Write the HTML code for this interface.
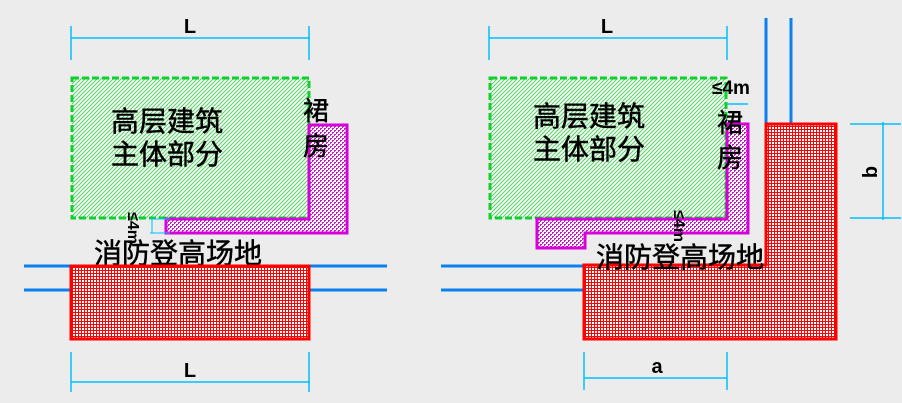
<!DOCTYPE html>
<html><head><meta charset="utf-8"><style>
html,body{margin:0;padding:0;background:#ececec;}
svg{display:block}
text{font-family:"Liberation Sans","Noto Sans CJK SC",sans-serif;fill:#000}
.c{stroke:#000;stroke-width:0.5}
</style></head><body>
<svg width="902" height="403" viewBox="0 0 902 403" xmlns="http://www.w3.org/2000/svg">
<defs>
<pattern id="g" width="4" height="4" patternUnits="userSpaceOnUse">
<rect width="4" height="4" fill="#f2f7f2"/>
<path d="M-1,1 L1,-1 M0,4 L4,0 M3,5 L5,3" stroke="#4cd05c" stroke-width="0.9"/>
</pattern>
<pattern id="m" width="4" height="4" patternUnits="userSpaceOnUse">
<rect width="4" height="4" fill="#fff"/>
<rect width="2" height="1" fill="#c818c8"/><rect x="2" y="2" width="2" height="1" fill="#c818c8"/>
<rect x="0" y="1" width="1" height="1" fill="#c818c8"/><rect x="2" y="3" width="1" height="1" fill="#c818c8"/>
</pattern>
<pattern id="r" width="3" height="3" patternUnits="userSpaceOnUse">
<rect width="3" height="3" fill="#fff"/>
<rect width="3" height="1" fill="#f00"/><rect width="1" height="3" fill="#f00"/>
</pattern>
</defs>

<!-- LEFT -->
<g stroke="#00bfff" stroke-width="1.5" fill="none">
<line x1="71" y1="38" x2="310" y2="38"/><line x1="71" y1="26" x2="71" y2="60"/><line x1="309" y1="26" x2="309" y2="60"/>
<line x1="71" y1="382" x2="310" y2="382"/><line x1="71" y1="352" x2="71" y2="392"/><line x1="309" y1="352" x2="309" y2="392"/>
</g>
<text x="190" y="33" font-size="20" font-weight="bold" text-anchor="middle">L</text>
<text x="190" y="377" font-size="20" font-weight="bold" text-anchor="middle">L</text>

<rect x="72" y="78" width="237" height="140" fill="url(#g)" stroke="#10d030" stroke-width="3" stroke-dasharray="7,3"/>
<polygon points="166,219 309,219 309,125 347,125 347,233 166,233" fill="url(#m)" stroke="#d800d8" stroke-width="3"/>
<g stroke="#00bfff" stroke-width="1" fill="none"><line x1="150" y1="219" x2="170" y2="219"/><line x1="150" y1="233" x2="170" y2="233"/><line x1="152" y1="219" x2="152" y2="233"/></g>
<text class="c" x="111" y="131" font-size="28">高层建筑</text>
<text class="c" x="111" y="164" font-size="28">主体部分</text>
<text class="c" x="303" y="120" font-size="26">裙</text>
<text class="c" x="303" y="155" font-size="26">房</text>
<text transform="translate(128,228) rotate(90)" font-size="16" font-weight="bold" text-anchor="middle">≤4m</text>
<text class="c" x="94" y="263" font-size="28">消防登高场地</text>

<g stroke="#0a7ff0" stroke-width="3"><line x1="24" y1="266" x2="72" y2="266"/><line x1="24" y1="290" x2="72" y2="290"/><line x1="309" y1="266" x2="387" y2="266"/><line x1="309" y1="290" x2="387" y2="290"/></g>
<rect x="71" y="266" width="238" height="73" fill="url(#r)" stroke="#f00" stroke-width="3"/>

<!-- RIGHT -->
<g stroke="#00bfff" stroke-width="1.5" fill="none">
<line x1="489" y1="38" x2="727" y2="38"/><line x1="489" y1="26" x2="489" y2="60"/><line x1="727" y1="26" x2="727" y2="60"/>
<line x1="584" y1="378" x2="727" y2="378"/><line x1="584" y1="352" x2="584" y2="390"/><line x1="727" y1="352" x2="727" y2="390"/>
<line x1="850" y1="124" x2="901" y2="124"/><line x1="850" y1="218" x2="901" y2="218"/><line x1="883" y1="122" x2="883" y2="220"/>
<line x1="727" y1="104" x2="748" y2="104"/>
</g>
<text x="607" y="33" font-size="20" font-weight="bold" text-anchor="middle">L</text>
<text x="657" y="373" font-size="20" font-weight="bold" text-anchor="middle">a</text>
<text transform="translate(877,172) rotate(-90)" font-size="20" font-weight="bold" text-anchor="middle">b</text>

<g stroke="#0a7ff0" stroke-width="3"><line x1="766" y1="18" x2="766" y2="124"/><line x1="791" y1="18" x2="791" y2="124"/><line x1="441" y1="266" x2="584" y2="266"/><line x1="441" y1="290" x2="584" y2="290"/></g>

<rect x="490" y="78" width="236" height="140" fill="url(#g)" stroke="#10d030" stroke-width="3" stroke-dasharray="7,3"/>
<polygon points="537,219 727,219 727,124 748,124 748,233 585,233 585,248 537,248" fill="url(#m)" stroke="#d800d8" stroke-width="3"/>
<polygon points="584,265 766,265 766,124 836,124 836,339 584,339" fill="url(#r)" stroke="#f00" stroke-width="3"/>
<text class="c" x="533" y="126" font-size="28">高层建筑</text>
<text class="c" x="533" y="159" font-size="28">主体部分</text>
<text class="c" x="717" y="132" font-size="26">裙</text>
<text class="c" x="717" y="167" font-size="26">房</text>
<text x="712" y="94" font-size="19" font-weight="bold">≤4m</text>
<text transform="translate(674,226) rotate(90)" font-size="16" font-weight="bold" text-anchor="middle">≤4m</text>
<text class="c" x="596" y="267" font-size="28">消防登高场地</text>
</svg>
</body></html>
